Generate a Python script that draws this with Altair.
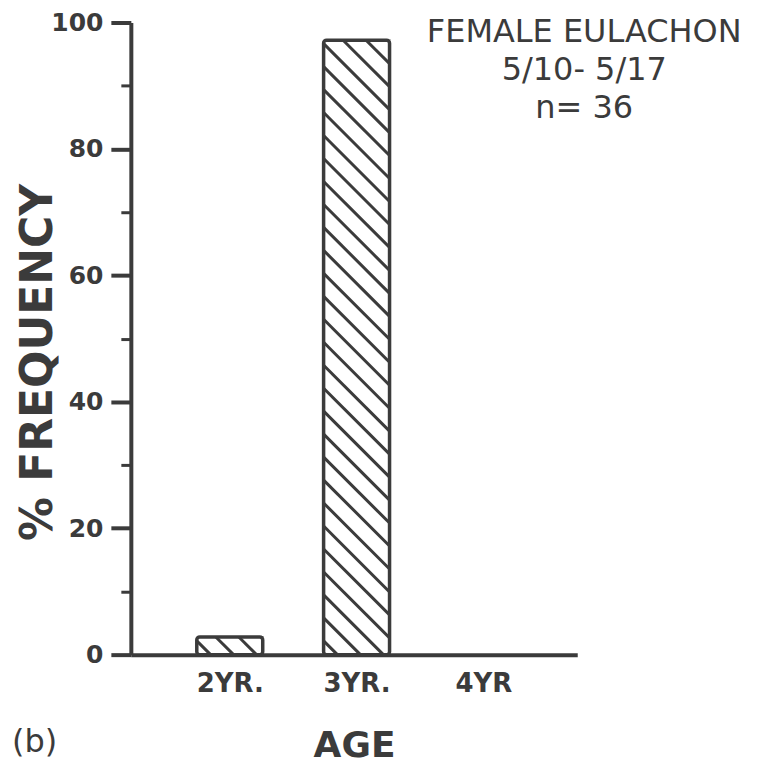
import altair as alt
import pandas as pd
import numpy as np

# ---- data ----
ages = [2, 3, 4]
age_labels = ["2YR.", "3YR.", "4YR"]
freq = [2.8, 97.2, 0.0]          # % frequency, n = 36
y_ticks = [0, 10, 20, 30, 40, 50, 60, 70, 80, 90, 100]
note_lines = ["FEMALE EULACHON", "5/10- 5/17", "n= 36"]
panel_tag = "(b)"

# ---- layout / style ----
W, H = 447, 633
X_DOM = [1.22, 4.74]
Y_DOM = [0, 100]
HALF = 0.26                      # half bar width in age units
INK = "#3b3b3b"
FONT = "DejaVu Sans"
HATCH_SPACING_PX = 23            # vertical distance between hatch lines

bars = pd.DataFrame({"age": ages, "freq": freq})

# hatch lines (45 degrees in screen space), clipped to each bar
px_x = W / (X_DOM[1] - X_DOM[0])
px_y = H / (Y_DOM[1] - Y_DOM[0])
k = px_x / px_y                  # y-units per x-unit for a 45 degree line
dc = HATCH_SPACING_PX / px_y
rows = []
for a, v in zip(ages, freq):
    if v <= 0:
        continue
    x0, x1 = a - HALF, a + HALF
    c = dc * 0.6
    while c < v + k * (x1 - x0):
        xs = max(x0, x0 + (c - v) / k)
        xe = min(x1, x0 + c / k)
        if xe > xs:
            rows.append({"xa": xs, "xb": xe,
                         "ya": c - k * (xs - x0), "yb": c - k * (xe - x0)})
        c += dc
hatch = pd.DataFrame(rows)

xscale = alt.Scale(domain=X_DOM, nice=False, zero=False)
yscale = alt.Scale(domain=Y_DOM, nice=False)

label_expr_x = " : ".join(
    f"datum.value === {a} ? '{l}'" for a, l in zip(ages, age_labels)) + " : ''"

x_axis = alt.Axis(values=ages, labelExpr=label_expr_x, ticks=False, tickSize=0,
                  grid=False, domainColor=INK, domainWidth=4,
                  labelFont=FONT, labelFontWeight="bold", labelFontSize=26,
                  labelColor=INK, labelBaseline="alphabetic", labelPadding=37,
                  title="AGE", titleFont=FONT, titleFontWeight="bold",
                  titleFontSize=36, titleColor=INK, titleBaseline="alphabetic",
                  titleY=102)

y_axis = alt.Axis(values=y_ticks,
                  labelExpr="datum.value % 20 === 0 ? datum.label : ''",
                  tickSize={"condition": {"test": "datum.value % 20 === 0", "value": 20}, "value": 10},
                  tickWidth={"condition": {"test": "datum.value % 20 === 0", "value": 4}, "value": 3},
                  tickColor=INK, grid=False, domainColor=INK, domainWidth=4,
                  labelFont=FONT, labelFontWeight="bold", labelFontSize=25,
                  labelColor=INK, labelPadding=8,
                  title="% FREQUENCY", titleFont=FONT, titleFontWeight="bold",
                  titleFontSize=44, titleColor=INK, titleBaseline="alphabetic",
                  titleX=-79, titleY=340)

base = alt.Chart(bars).transform_filter("datum.freq > 0").transform_calculate(
    x0=f"datum.age - {HALF}", x1=f"datum.age + {HALF}")

fill = base.mark_rect(fill="white").encode(
    x=alt.X("x0:Q", scale=xscale, axis=x_axis),
    x2="x1:Q",
    y=alt.Y("freq:Q", scale=yscale, axis=y_axis),
    y2=alt.datum(0),
)

lines = alt.Chart(hatch).mark_rule(color=INK, strokeWidth=3).encode(
    x=alt.X("xa:Q", scale=xscale), x2="xb:Q",
    y=alt.Y("ya:Q", scale=yscale), y2="yb:Q",
)

outline = base.mark_rect(fill=None, stroke=INK, strokeWidth=3.5, cornerRadius=3).encode(
    x=alt.X("x0:Q", scale=xscale), x2="x1:Q",
    y=alt.Y("freq:Q", scale=yscale), y2=alt.datum(0),
)

note = alt.Chart(pd.DataFrame({"t": ["\n".join(note_lines)]})).mark_text(
    font=FONT, fontSize=32, color=INK, align="center", baseline="alphabetic",
    lineBreak="\n", lineHeight=38,
).encode(text="t:N", x=alt.value(454), y=alt.value(20))

tag = alt.Chart(pd.DataFrame({"t": [panel_tag]})).mark_text(
    font=FONT, fontSize=32, color=INK, align="left", baseline="alphabetic",
).encode(text="t:N", x=alt.value(-119), y=alt.value(730))

chart = alt.layer(fill, lines, outline, note, tag).properties(
    width=W, height=H,
    autosize=alt.AutoSizeParams(type="none"),
    padding={"left": 123, "top": 14, "right": 180, "bottom": 110},
    background="white",
).configure_view(stroke=None)

chart.save("out.html", embed_options={"renderer": "svg", "actions": False})
